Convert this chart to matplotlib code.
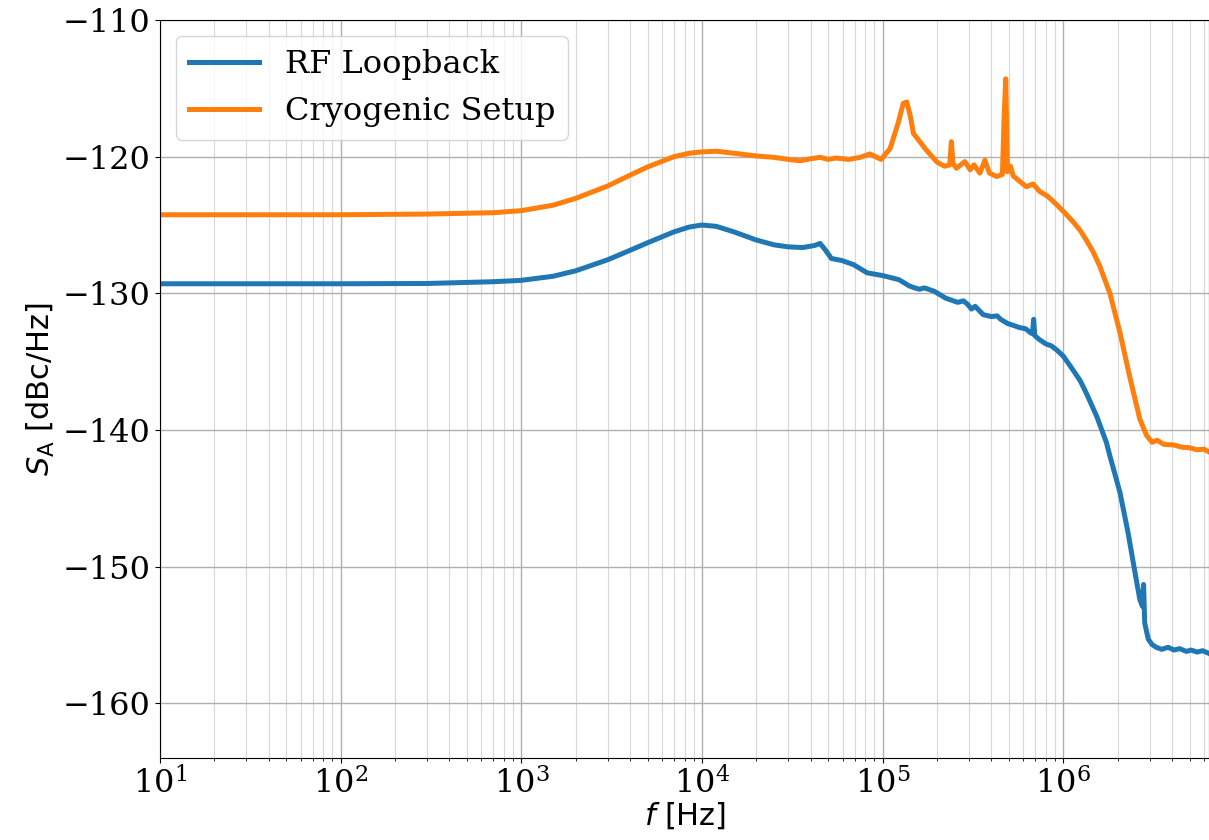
import numpy as np
import matplotlib
matplotlib.use("Agg")
import matplotlib.pyplot as plt

f_loop = [10, 100, 300, 700, 1e3, 1.5e3, 2e3, 3e3, 4e3, 5e3, 7e3, 8.5e3, 1e4, 1.2e4,
          1.5e4, 2e4, 2.5e4, 3e4, 3.6e4, 4.2e4, 4.5e4, 4.8e4, 5.2e4, 5.95e4, 6.9e4, 8.2e4,
          1e5, 1.23e5, 1.4e5, 1.5e5, 1.6e5, 1.7e5, 1.93e5, 2.23e5, 2.6e5, 2.8e5, 2.95e5,
          3.1e5, 3.25e5, 3.6e5, 4.0e5, 4.3e5, 4.5e5, 4.9e5, 5.3e5, 5.7e5, 6.2e5, 6.6e5,
          6.75e5, 6.85e5, 6.95e5, 7.4e5, 8e5, 8.6e5, 9.2e5, 1e6, 1.13e6, 1.24e6, 1.34e6,
          1.53e6, 1.73e6, 1.81e6, 1.9e6, 2.06e6, 2.28e6, 2.49e6, 2.65e6, 2.74e6, 2.78e6,
          2.82e6, 2.95e6, 3.1e6, 3.27e6, 3.5e6, 3.8e6, 4.1e6, 4.4e6, 4.8e6, 5.1e6, 5.5e6,
          5.9e6, 6.4e6]
s_loop = [-129.3, -129.3, -129.28, -129.15, -129.05, -128.75, -128.35, -127.55, -126.85,
          -126.3, -125.5, -125.15, -125.0, -125.1, -125.5, -126.1, -126.45, -126.6,
          -126.65, -126.5, -126.35, -126.8, -127.45, -127.6, -127.9, -128.5, -128.7,
          -129.0, -129.45, -129.6, -129.7, -129.6, -129.85, -130.35, -130.66, -130.55,
          -130.8, -131.15, -130.95, -131.56, -131.7, -131.65, -131.9, -132.2, -132.35,
          -132.5, -132.6, -132.9, -132.95, -131.9, -133.1, -133.4, -133.7, -133.85,
          -134.15, -134.6, -135.6, -136.4, -137.3, -139.0, -140.9, -141.9, -142.9,
          -144.6, -147.5, -150.4, -152.4, -152.9, -151.3, -154.1, -155.3, -155.7,
          -155.9, -156.05, -155.9, -156.1, -156.0, -156.2, -156.1, -156.25, -156.15,
          -156.35]

# cryogenic setup measurement
f_cryo = [10, 100, 300, 700, 1e3, 1.5e3, 2e3, 3e3, 4e3, 5e3, 7e3, 8.5e3, 1e4, 1.2e4,
          1.5e4, 2e4, 2.5e4, 3e4, 3.5e4, 4e4, 4.5e4, 5e4, 5.5e4, 6.5e4, 7.5e4, 8.5e4,
          9.8e4, 1.1e5, 1.22e5, 1.3e5, 1.36e5, 1.42e5, 1.48e5, 1.74e5, 2e5, 2.2e5,
          2.35e5, 2.4e5, 2.45e5, 2.56e5, 2.85e5, 3.05e5, 3.2e5, 3.45e5, 3.68e5, 3.9e5,
          4.27e5, 4.6e5, 4.7e5, 4.8e5, 4.9e5, 5.1e5, 5.27e5, 6.24e5, 6.8e5, 7.4e5,
          8.2e5, 9e5, 1e6, 1.13e6, 1.24e6, 1.34e6, 1.46e6, 1.59e6, 1.81e6, 2.06e6,
          2.33e6, 2.65e6, 2.89e6, 3.1e6, 3.3e6, 3.6e6, 4.1e6, 4.5e6, 5e6, 5.5e6, 6e6,
          6.4e6]
s_cryo = [-124.25, -124.25, -124.2, -124.1, -123.95, -123.55, -123.05, -122.15, -121.35,
          -120.75, -120.0, -119.75, -119.65, -119.6, -119.75, -119.95, -120.05, -120.2,
          -120.3, -120.15, -120.05, -120.2, -120.1, -120.2, -120.05, -119.8, -120.2,
          -119.4, -117.5, -116.1, -116.0, -117.0, -118.3, -119.5, -120.4, -120.7,
          -120.6, -118.9, -120.5, -120.85, -120.36, -120.96, -120.6, -121.2, -120.25,
          -121.2, -121.45, -121.3, -117.1, -114.3, -121.1, -120.7, -121.4, -122.2,
          -122.0, -122.55, -122.9, -123.4, -124.0, -124.75, -125.4, -126.1, -126.95,
          -128.0, -130.0, -132.9, -136.1, -139.2, -140.4, -140.9, -140.75, -141.05,
          -141.1, -141.25, -141.3, -141.45, -141.4, -141.6]

plt.rcParams['font.family'] = 'DejaVu Serif'
plt.rcParams['mathtext.fontset'] = 'dejavusans'

fig = plt.figure(figsize=(12.09, 8.4), dpi=100)
ax = fig.add_axes([160 / 1209, 82 / 840, 1049 / 1209, 738 / 840])

ax.plot(f_loop, s_loop, color='#1f77b4', lw=3.6, label='RF Loopback')
ax.plot(f_cryo, s_cryo, color='#ff7f0e', lw=3.6, label='Cryogenic Setup')

ax.set_xscale('log')
ax.set_xlim(10, 6.4e6)
ax.set_ylim(-164, -110)
ax.set_yticks([-160, -150, -140, -130, -120, -110])

ax.grid(which='major', color='#b0b0b0', lw=1.0)
ax.grid(which='minor', axis='x', color='#b0b0b0', lw=0.8, alpha=0.5)

ax.tick_params(labelsize=23)
ax.set_xlabel(r'$f$ [Hz]', fontsize=22, family='DejaVu Sans', labelpad=0)
ax.set_ylabel(r'$S_\mathrm{A}$ [dBc/Hz]', fontsize=22, family='DejaVu Sans', labelpad=4)

ax.legend(loc='upper left', fontsize=23, handlelength=2.2)

fig.savefig('out.png', dpi=100)
